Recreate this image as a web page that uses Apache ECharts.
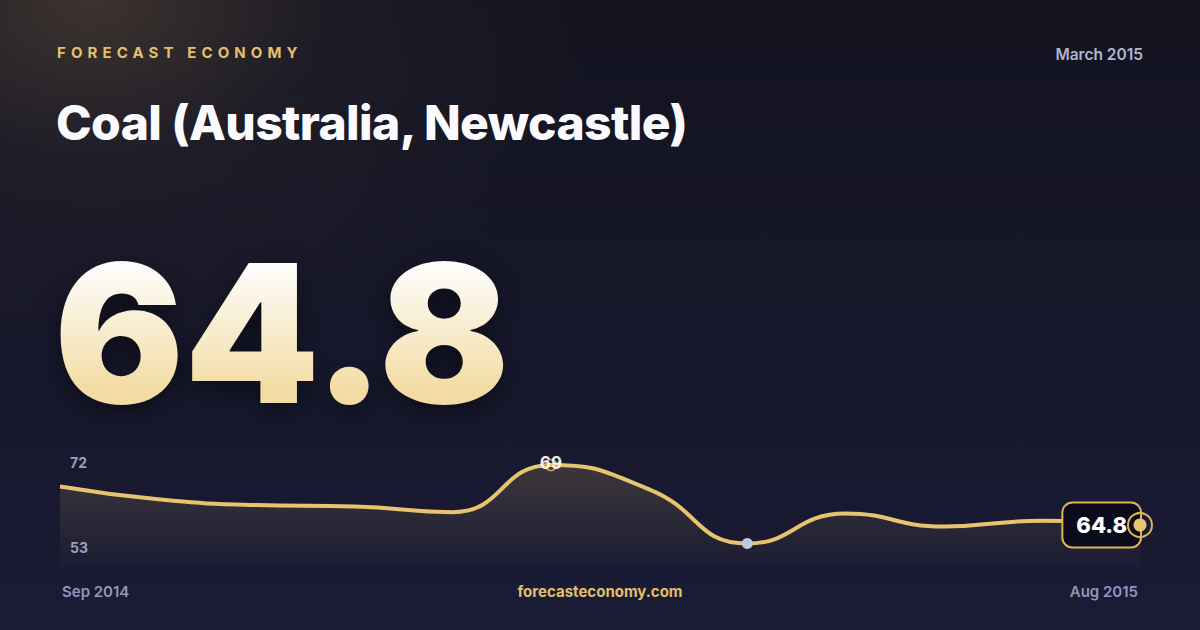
<!DOCTYPE html>
<html>
<head>
<meta charset="utf-8">
<script src="https://cdn.jsdelivr.net/npm/echarts@6/dist/echarts.min.js"></script>
<style>
  html, body { margin:0; padding:0; width:1200px; height:630px; overflow:hidden; }
  body {
    background:
      radial-gradient(ellipse 520px 360px at 90px 0px, rgba(95,78,60,0.55) 0%, rgba(60,50,50,0.25) 45%, rgba(0,0,0,0) 100%),
      linear-gradient(180deg, #13131f 0%, #161729 45%, #1a1b35 100%);
    font-family: Inter, "Noto Sans", sans-serif;
    position: relative;
  }
  #chart { position:absolute; left:0; top:0; width:1200px; height:630px; }
  .t { position:absolute; white-space:nowrap; }
  #brand { left:57px; top:43px; font-size:15px; font-weight:700; letter-spacing:5.1px; color:#e4c06e; }
  #date { right:57px; top:45px; font-size:15.5px; font-weight:600; color:#b2b4d0; }
  #title { left:56px; top:94px; font-size:48px; line-height:58px; font-weight:800; letter-spacing:-0.6px; color:#fafaff; }
  #big { left:54px; top:237px; font-size:193px; font-weight:900; letter-spacing:0px; line-height:193px;
         background: linear-gradient(180deg, #fdfcfa 16%, #f3dca3 80%);
         -webkit-background-clip:text; background-clip:text; color:transparent;
         filter: drop-shadow(0px 10px 14px rgba(0,0,0,0.45)); }
  #site { left:0; width:1200px; text-align:center; top:582px; font-size:15px; font-weight:700; color:#e2bf6c; }
</style>
</head>
<body>
<div id="chart"></div>
<div class="t" id="brand">FORECAST ECONOMY</div>
<div class="t" id="date">March 2015</div>
<div class="t" id="title">Coal (Australia, Newcastle)</div>
<div class="t" id="big">64.8</div>
<div class="t" id="site">forecasteconomy.com</div>
<script>
const months = ['Sep 2014','Oct 2014','Nov 2014','Dec 2014','Jan 2015','Feb 2015','Mar 2015','Apr 2015','May 2015','Jun 2015','Jul 2015','Aug 2015'];
const prices = [67.5, 66.6, 66.2, 66.1, 65.7, 69.0, 67.3, 63.5, 65.6, 64.7, 65.1, 64.8];
const rangeLabels = ['72', '53'];

const GOLD = '#e8c46e';
const RING = '#d9b45a';
const maxIdx = prices.indexOf(Math.max(...prices));
const minIdx = prices.indexOf(Math.min(...prices));
const lastIdx = prices.length - 1;

const lineData = prices.map((v, i) => {
  if (i === maxIdx) return { value: v, symbol: 'circle', symbolSize: 11,
    itemStyle: { color: 'rgba(0,0,0,0)', borderColor: '#c9a24a', borderWidth: 1.5 },
    label: { show: true, position: 'top', distance: -13, formatter: String(Math.round(v)),
      color: 'rgba(255,255,255,0.92)', fontSize: 17, fontWeight: 700, fontFamily: 'Inter' } };
  if (i === minIdx) return { value: v, symbol: 'circle', symbolSize: 11,
    itemStyle: { color: '#c2c6de', borderWidth: 0 } };
  return { value: v, symbol: 'none' };
});
const lastOnly = prices.map((v, i) => i === lastIdx ? v : null);

const chart = echarts.init(document.getElementById('chart'), null, { renderer: 'svg', width: 1200, height: 630 });
chart.setOption({
  backgroundColor: 'transparent',
  animation: false,
  grid: { left: 60, right: 60, top: 465, bottom: 65 },
  xAxis: {
    type: 'category', data: months, boundaryGap: false,
    axisLine: { show: false }, axisTick: { show: false }, splitLine: { show: false },
    axisLabel: {
      interval: (i) => i === 0 || i === months.length - 1,
      alignMinLabel: 'left', alignMaxLabel: 'right',
      margin: 19, color: '#9296bb', fontSize: 15, fontWeight: 600, fontFamily: 'Inter',
      padding: [0, 2, 0, 2]
    }
  },
  yAxis: { type: 'value', min: 62, max: 69, show: false },
  graphic: [
    { type: 'text', left: 70, top: 455, style: { text: rangeLabels[0], fill: '#9a9dc0', fontSize: 14, fontWeight: 700, fontFamily: 'Inter' } },
    { type: 'text', left: 70, top: 540, style: { text: rangeLabels[1], fill: '#9a9dc0', fontSize: 14, fontWeight: 700, fontFamily: 'Inter' } }
  ],
  series: [
    {
      type: 'line', data: lineData, smooth: 0.5, z: 2,
      showSymbol: true,
      lineStyle: { color: GOLD, width: 4 },
      areaStyle: {
        color: new echarts.graphic.LinearGradient(0, 0, 0, 1, [
          { offset: 0, color: 'rgba(232,196,110,0.25)' },
          { offset: 1, color: 'rgba(232,196,110,0.02)' }
        ])
      }
    },
    {
      type: 'scatter', data: lastOnly, z: 3, symbol: 'circle', symbolSize: 12, silent: true,
      itemStyle: { color: 'rgba(0,0,0,0)', opacity: 1 },
      label: { show: true, position: 'left', distance: -6, formatter: (p) => p.value.toFixed(1),
        color: '#ffffff', fontSize: 22, fontWeight: 800, fontFamily: 'Inter', lineHeight: 25,
        backgroundColor: '#0b0c1b', borderColor: RING, borderWidth: 2, borderRadius: 9,
        padding: [9, 13, 9, 13] }
    },
    {
      type: 'scatter', data: lastOnly, z: 5, symbol: 'circle', symbolSize: 24, silent: true,
      itemStyle: { color: 'rgba(0,0,0,0)', borderColor: RING, borderWidth: 2, opacity: 1 }
    },
    {
      type: 'scatter', data: lastOnly, z: 6, symbol: 'circle', symbolSize: 13, silent: true,
      itemStyle: { color: GOLD, borderWidth: 0, opacity: 1 }
    }
  ]
});
</script>
</body>
</html>
